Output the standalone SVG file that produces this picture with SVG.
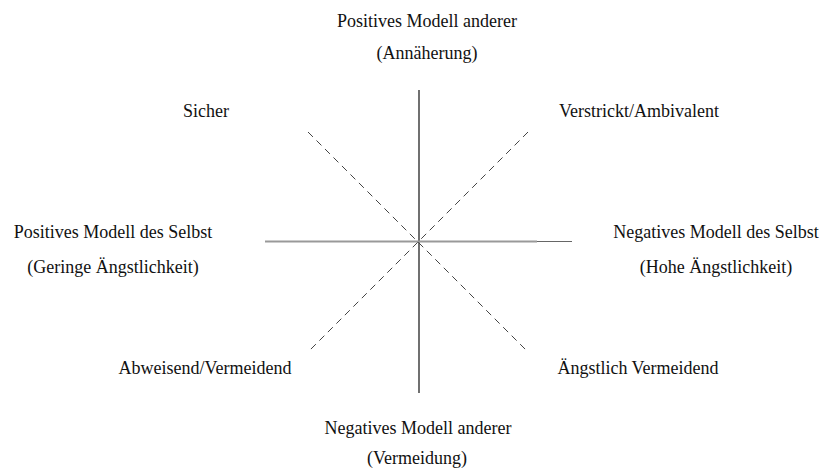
<svg xmlns="http://www.w3.org/2000/svg" width="820" height="468" viewBox="0 0 820 468">
<style>
text{font-family:"Liberation Serif","Times New Roman",serif;font-size:18px;fill:#111;text-anchor:middle}
.dash{stroke:#444;stroke-width:1;stroke-dasharray:7,5;fill:none}
</style>
<rect width="820" height="468" fill="#fff"/>
<g id="connectors">
<line x1="419" y1="90" x2="419" y2="393" stroke="#111" stroke-width="1.2"/>
<line x1="265" y1="241.5" x2="537" y2="241.5" stroke="#999" stroke-width="2"/>
<line x1="537" y1="241.5" x2="572" y2="241.5" stroke="#666" stroke-width="1"/>
<line class="dash" x1="308" y1="132" x2="528" y2="352"/>
<line class="dash" x1="528" y1="132" x2="308" y2="352"/>
</g>
<g id="top"><text x="427" y="27">Positives Modell anderer</text><text x="427" y="59">(Annäherung)</text></g>
<g id="sicher"><text x="206" y="117">Sicher</text></g>
<g id="verstrickt"><text x="639" y="117">Verstrickt/Ambivalent</text></g>
<g id="left"><text x="113" y="238">Positives Modell des Selbst</text><text x="113" y="273">(Geringe Ängstlichkeit)</text></g>
<g id="right"><text x="716" y="238">Negatives Modell des Selbst</text><text x="716" y="273">(Hohe Ängstlichkeit)</text></g>
<g id="abweisend"><text x="205" y="374">Abweisend/Vermeidend</text></g>
<g id="aengstlich"><text x="638" y="374">Ängstlich Vermeidend</text></g>
<g id="bottom"><text x="418" y="434">Negatives Modell anderer</text><text x="417" y="464">(Vermeidung)</text></g>
</svg>
